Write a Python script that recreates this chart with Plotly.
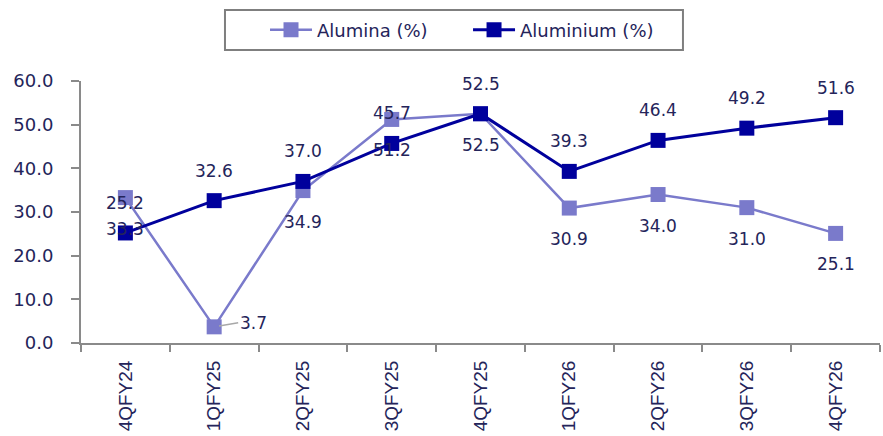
import plotly.graph_objects as go

categories = ["4QFY24", "1QFY25", "2QFY25", "3QFY25", "4QFY25", "1QFY26", "2QFY26", "3QFY26", "4QFY26"]
alumina = [33.3, 3.7, 34.9, 51.2, 52.5, 30.9, 34.0, 31.0, 25.1]
aluminium = [25.2, 32.6, 37.0, 45.7, 52.5, 39.3, 46.4, 49.2, 51.6]

C_ALUMINA = "#7A7ACB"
C_ALUMINIUM = "#00009C"
TXT = "#24245A"
AXIS = "#8A8A8A"
FONT = "DejaVu Sans"

fig = go.Figure()
fig.add_trace(go.Scatter(
    x=categories, y=alumina, name="Alumina (%)", mode="lines+markers",
    line=dict(color=C_ALUMINA, width=2.5),
    marker=dict(symbol="square", size=15, color=C_ALUMINA),
    legend="legend",
))
fig.add_trace(go.Scatter(
    x=categories, y=aluminium, name="Aluminium (%)", mode="lines+markers",
    line=dict(color=C_ALUMINIUM, width=3),
    marker=dict(symbol="square", size=15, color=C_ALUMINIUM),
    legend="legend2",
))

annotations = []
for c, v in zip(categories, aluminium):
    annotations.append(dict(x=c, y=v, text=f"{v:.1f}", showarrow=False, yshift=30,
                            font=dict(family=FONT, size=17, color=TXT)))
for c, v in zip(categories, alumina):
    if v < 10:
        annotations.append(dict(x=c, y=v, text=f"{v:.1f}", showarrow=True, ax=24, ay=-4,
                                arrowhead=0, arrowwidth=1.5, arrowcolor="#A8A8A8", standoff=5,
                                xanchor="left", font=dict(family=FONT, size=17, color=TXT)))
    else:
        annotations.append(dict(x=c, y=v, text=f"{v:.1f}", showarrow=False, yshift=-31,
                                font=dict(family=FONT, size=17, color=TXT)))

leg_common = dict(orientation="h", yanchor="middle", y=1.1947, xanchor="left",
                  borderwidth=0, bgcolor="rgba(0,0,0,0)", itemwidth=42,
                  font=dict(family=FONT, size=18, color=TXT))

fig.update_layout(
    width=883, height=436,
    margin=dict(l=81, r=3, t=81, b=93, autoexpand=False),
    paper_bgcolor="white", plot_bgcolor="white",
    annotations=annotations,
    showlegend=True,
    legend=dict(x=0.2303, **leg_common),
    legend2=dict(x=0.4844, **leg_common),
    shapes=[dict(type="rect", xref="paper", yref="paper", x0=0.1802, x1=0.7534,
                 y0=1.1183, y1=1.271, line=dict(color="#7F7F7F", width=2),
                 fillcolor="rgba(0,0,0,0)", layer="below")],
    xaxis=dict(
        type="category", range=[-0.5, len(categories) - 0.5],
        showgrid=False, showline=True, linecolor=AXIS, linewidth=2,
        ticks="outside", tickson="boundaries", ticklen=7, tickcolor=AXIS, tickwidth=2,
        tickangle=-90, tickfont=dict(family="Liberation Sans", size=19, color=TXT),
        ticklabelstandoff=8, automargin=False,
    ),
    yaxis=dict(
        range=[0, 60], dtick=10, tickformat=".1f", showgrid=False, zeroline=False,
        showline=True, linecolor=AXIS, linewidth=2,
        ticks="outside", ticklen=8, tickcolor=AXIS, tickwidth=2,
        tickfont=dict(family=FONT, size=18, color=TXT),
        ticklabelstandoff=14, automargin=False,
    ),
)

fig.write_html("out.html")
